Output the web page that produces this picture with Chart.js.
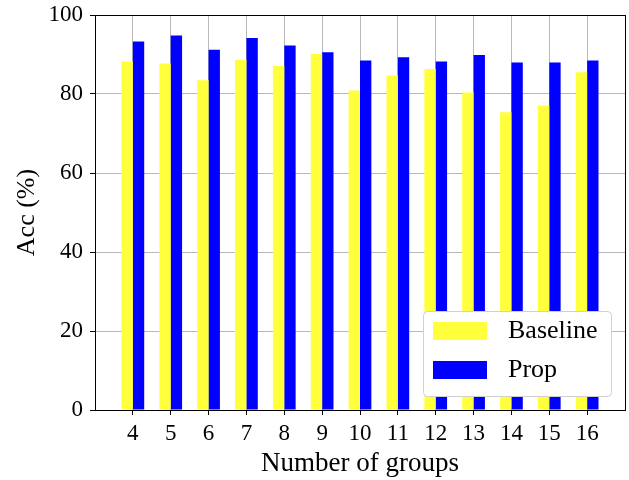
<!DOCTYPE html>
<html>
<head>
<meta charset="utf-8">
<script src="https://cdn.jsdelivr.net/npm/chart.js@4.4.1/dist/chart.umd.min.js"></script>
<style>
    html, body { margin: 0; padding: 0; background: #ffffff; }
    #chart { display: block; }
</style>
</head>
<body>
<canvas id="chart" width="629" height="480"></canvas>
<script>
// --- Data ---
const groups = [4, 5, 6, 7, 8, 9, 10, 11, 12, 13, 14, 15, 16];
const baselineAcc = [88.2, 87.7, 83.5, 88.7, 87.1, 90.1, 80.9, 84.7, 86.3, 80.4, 75.4, 77.1, 85.5];
const propAcc = [93.3, 94.8, 91.2, 94.2, 92.3, 90.6, 88.5, 89.3, 88.2, 89.9, 88.0, 88.0, 88.5];
const yTicks = [0, 20, 40, 60, 80, 100];
const seriesNames = ['Baseline', 'Prop'];
const seriesColors = ['#ffff3c', '#0000ff'];

const SERIF = '"Liberation Serif", "DejaVu Serif", serif';
const GRID_COLOR = '#b8b8b8';

// --- Plugins ---
// black box round the plot area (all four spines)
const framePlugin = {
    id: 'frame',
    afterDraw(chart) {
        const { ctx, chartArea: a } = chart;
        ctx.save();
        ctx.strokeStyle = '#000000';
        ctx.lineWidth = 1;
        ctx.strokeRect(Math.round(a.left) + 0.5, Math.round(a.top) + 0.5,
            Math.round(a.right - a.left), Math.round(a.bottom - a.top));
        ctx.restore();
    }
};

// matplotlib-like legend in the lower right corner of the plot
const insideLegend = {
    id: 'insideLegend',
    afterDraw(chart) {
        const { ctx, chartArea: a } = chart;
        const w = 188, h = 85;
        const x = a.right - 14 - w;
        const y = a.bottom - 14 - h;
        ctx.save();
        ctx.beginPath();
        ctx.roundRect(x + 0.5, y + 0.5, w, h, 4);
        ctx.fillStyle = '#ffffff';
        ctx.fill();
        ctx.strokeStyle = '#d0d0d0';
        ctx.lineWidth = 1;
        ctx.stroke();

        ctx.font = '26px ' + SERIF;
        ctx.textBaseline = 'middle';
        ctx.textAlign = 'left';
        chart.data.datasets.forEach((ds, i) => {
            const py = y + 11 + i * 39;
            ctx.fillStyle = ds.backgroundColor;
            ctx.fillRect(x + 10, py, 54, 18);
            ctx.fillStyle = '#000000';
            ctx.fillText(ds.label, x + 85, py + 9);
        });
        ctx.restore();
    }
};

// --- Chart ---
const ctx = document.getElementById('chart').getContext('2d');
new Chart(ctx, {
    type: 'bar',
    data: {
        datasets: [
            {
                label: seriesNames[0],
                data: groups.map((g, i) => ({ x: g, y: baselineAcc[i] })),
                backgroundColor: seriesColors[0],
                borderWidth: 0,
            },
            {
                label: seriesNames[1],
                data: groups.map((g, i) => ({ x: g, y: propAcc[i] })),
                backgroundColor: seriesColors[1],
                borderWidth: 0,
            }
        ]
    },
    options: {
        responsive: false,
        animation: false,
        categoryPercentage: 0.6,
        barPercentage: 1.0,
        layout: { padding: { top: 15, right: 4, left: 0, bottom: 0 } },
        plugins: {
            legend: { display: false },
            tooltip: { enabled: false },
        },
        scales: {
            x: {
                type: 'linear',
                min: 3,
                max: 17,
                offset: false,
                z: 1,
                afterBuildTicks: (axis) => { axis.ticks = groups.map(v => ({ value: v })); },
                afterFit: (axis) => {
                    axis.height = 70;
                    axis.paddingLeft = 0;
                    axis.paddingRight = 0;
                },
                grid: { offset: false, color: GRID_COLOR, lineWidth: 1, tickColor: '#000000', tickLength: 5 },
                border: { display: false },
                ticks: {
                    color: '#000000',
                    font: { family: SERIF, size: 23 },
                    padding: 5,
                    maxRotation: 0,
                    autoSkip: false,
                },
                title: {
                    display: true,
                    text: 'Number of groups',
                    color: '#000000',
                    font: { family: SERIF, size: 27 },
                    padding: { top: 0, bottom: 0 },
                }
            },
            y: {
                min: 0,
                max: 100,
                z: 1,
                afterBuildTicks: (axis) => { axis.ticks = yTicks.map(v => ({ value: v })); },
                afterFit: (axis) => {
                    axis.width = 95;
                    axis.paddingTop = 0;
                    axis.paddingBottom = 0;
                },
                grid: { color: GRID_COLOR, lineWidth: 1, tickColor: '#000000', tickLength: 5 },
                border: { display: false },
                ticks: {
                    color: '#000000',
                    font: { family: SERIF, size: 23 },
                    padding: 7,
                },
                title: {
                    display: true,
                    text: 'Acc (%)',
                    color: '#000000',
                    font: { family: SERIF, size: 26 },
                    padding: { top: 12, bottom: 0 },
                }
            }
        }
    },
    plugins: [framePlugin, insideLegend]
});
</script>
</body>
</html>
